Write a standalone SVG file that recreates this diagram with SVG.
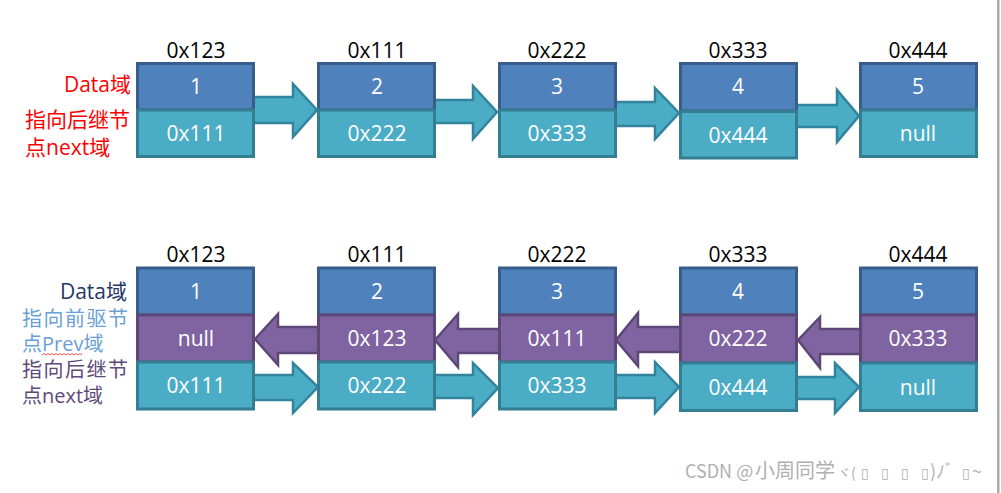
<svg xmlns="http://www.w3.org/2000/svg" width="1001" height="493" viewBox="0 0 1001 493">
<style>
.t{font-family:"Open Sans","Noto Sans CJK SC",sans-serif;}
.addr{font-size:21px;fill:#000;text-anchor:middle;}
.val{font-size:21px;fill:#fff;text-anchor:middle;}
.d{fill:#4F81BD;stroke:#385D8A;stroke-width:3;}
.n{fill:#4BACC6;stroke:#357D91;stroke-width:3;}
.p{fill:#8064A2;stroke:#5C4776;stroke-width:3;}
.an{fill:#4BACC6;stroke:#31849B;stroke-width:2.5;stroke-linejoin:miter;}
.ap{fill:#8064A2;stroke:#5C4776;stroke-width:2.5;stroke-linejoin:miter;}
.lab{font-size:21px;}
.lab2{font-size:20px;}
.wm{font-family:"Noto Sans CJK SC","Noto Sans",sans-serif;fill:#b0b0b0;font-size:18px;}
.bx{font-family:"DejaVu Sans",sans-serif;font-size:14px;}
</style>
<rect width="1001" height="493" fill="#fff"/>
<rect x="997" y="0" width="2.5" height="493" fill="#a9a9a9"/>

<g id="connectors">
  <polygon class="an" points="250,97 293,97 293,84 317,110 293,137 293,123 250,123"/>
  <polygon class="an" points="431,100 473,100 473,86 497,112 473,139 473,123 431,123"/>
  <polygon class="an" points="612,102 655,102 655,88 679,113 655,139 655,126 612,126"/>
  <polygon class="an" points="793,105 837,105 837,90 859,116 837,142 837,127 793,127"/>

  <polygon class="an" points="250,375 293,375 293,363 318,387 293,413 293,400 250,400"/>
  <polygon class="an" points="431,375 473,375 473,363 498,388 473,415 473,398 431,398"/>
  <polygon class="an" points="612,375 655,375 655,362 679,387 655,413 655,398 612,398"/>
  <polygon class="an" points="793,377 835,377 835,363 859,387 835,413 835,399 793,399"/>

  <polygon class="ap" points="255,339 278,314 278,327 322,327 322,353 278,353 278,365"/>
  <polygon class="ap" points="435,340 458,314 458,329 503,329 503,353 458,353 458,367"/>
  <polygon class="ap" points="616,340 638,313 638,327 684,327 684,352 638,352 638,366"/>
  <polygon class="ap" points="798,340 820,317 820,329 865,329 865,354 820,354 820,368"/>
</g>

<g id="top-node-1">
  <text class="t addr" x="196" y="58">0x123</text>
  <rect class="d" x="137.5" y="63.5" width="116" height="46.5"/>
  <rect class="n" x="137.5" y="110" width="116" height="46.5"/>
  <text class="t val" x="196" y="94">1</text>
  <text class="t val" x="196" y="141">0x111</text>
</g>
<g id="top-node-2">
  <text class="t addr" x="377" y="58">0x111</text>
  <rect class="d" x="318.5" y="63.5" width="116" height="46.5"/>
  <rect class="n" x="318.5" y="110" width="116" height="46.5"/>
  <text class="t val" x="377" y="94">2</text>
  <text class="t val" x="377" y="141">0x222</text>
</g>
<g id="top-node-3">
  <text class="t addr" x="557" y="58">0x222</text>
  <rect class="d" x="499.5" y="63.5" width="116" height="46.5"/>
  <rect class="n" x="499.5" y="110" width="116" height="46.5"/>
  <text class="t val" x="557" y="94">3</text>
  <text class="t val" x="557" y="141">0x333</text>
</g>
<g id="top-node-4">
  <text class="t addr" x="738" y="58">0x333</text>
  <rect class="d" x="680.5" y="63.5" width="116" height="47.5"/>
  <rect class="n" x="680.5" y="111.5" width="116" height="46.5"/>
  <text class="t val" x="738" y="94">4</text>
  <text class="t val" x="738" y="143">0x444</text>
</g>
<g id="top-node-5">
  <text class="t addr" x="918" y="58">0x444</text>
  <rect class="d" x="860.5" y="63.5" width="116" height="46.5"/>
  <rect class="n" x="860.5" y="110" width="116" height="46.5"/>
  <text class="t val" x="918" y="94">5</text>
  <text class="t val" x="918" y="141">null</text>
</g>

<g id="bottom-node-1">
  <text class="t addr" x="196" y="262">0x123</text>
  <rect class="d" x="137.5" y="268" width="116" height="47"/>
  <rect class="p" x="137.5" y="315" width="116" height="47"/>
  <rect class="n" x="137.5" y="362" width="116" height="47"/>
  <text class="t val" x="196" y="299">1</text>
  <text class="t val" x="196" y="346">null</text>
  <text class="t val" x="196" y="393">0x111</text>
</g>
<g id="bottom-node-2">
  <text class="t addr" x="377" y="262">0x111</text>
  <rect class="d" x="318.5" y="268" width="116" height="47"/>
  <rect class="p" x="318.5" y="315" width="116" height="47"/>
  <rect class="n" x="318.5" y="362" width="116" height="47"/>
  <text class="t val" x="377" y="299">2</text>
  <text class="t val" x="377" y="346">0x123</text>
  <text class="t val" x="377" y="393">0x222</text>
</g>
<g id="bottom-node-3">
  <text class="t addr" x="557" y="262">0x222</text>
  <rect class="d" x="499.5" y="268" width="116" height="47"/>
  <rect class="p" x="499.5" y="315" width="116" height="47"/>
  <rect class="n" x="499.5" y="362" width="116" height="47"/>
  <text class="t val" x="557" y="299">3</text>
  <text class="t val" x="557" y="346">0x111</text>
  <text class="t val" x="557" y="393">0x333</text>
</g>
<g id="bottom-node-4">
  <text class="t addr" x="738" y="262">0x333</text>
  <rect class="d" x="680.5" y="268" width="116" height="47"/>
  <rect class="p" x="680.5" y="315" width="116" height="48"/>
  <rect class="n" x="680.5" y="363" width="116" height="47.5"/>
  <text class="t val" x="738" y="299">4</text>
  <text class="t val" x="738" y="346">0x222</text>
  <text class="t val" x="738" y="395">0x444</text>
</g>
<g id="bottom-node-5">
  <text class="t addr" x="918" y="262">0x444</text>
  <rect class="d" x="860.5" y="268" width="116" height="47"/>
  <rect class="p" x="860.5" y="315" width="116" height="48"/>
  <rect class="n" x="860.5" y="363" width="116" height="47.5"/>
  <text class="t val" x="918" y="299">5</text>
  <text class="t val" x="918" y="346">0x333</text>
  <text class="t val" x="918" y="395">null</text>
</g>

<g id="labels-top">
  <text class="t lab" x="131" y="92" text-anchor="end" fill="#FF0000">Data域</text>
  <text class="t lab" x="25" y="127" fill="#FF0000">指向后继节</text>
  <text class="t lab" x="25" y="155" fill="#FF0000">点next域</text>
</g>
<g id="labels-bottom">
  <text class="t lab" x="127" y="299" text-anchor="end" fill="#1F3864">Data域</text>
  <text class="t lab2" x="22" y="326" fill="#6A9FD8" textLength="106">指向前驱节</text>
  <text class="t lab2" x="22" y="351" fill="#6A9FD8">点Prev域</text>
  <path d="M42,355 l2,-1.5 l2,1.5 l2,-1.5 l2,1.5 l2,-1.5 l2,1.5 l2,-1.5 l2,1.5 l2,-1.5 l2,1.5 l2,-1.5 l2,1.5 l2,-1.5 l2,1.5 l2,-1.5 l2,1.5 l2,-1.5 l2,1.5 l2,-1.5 l2,1.5" fill="none" stroke="#FF4040" stroke-width="0.9"/>
  <text class="t lab2" x="22" y="377" fill="#604A7B" textLength="106">指向后继节</text>
  <text class="t lab2" x="22" y="403" fill="#604A7B">点next域</text>
</g>

<text class="wm" x="685" y="478">CSDN @<tspan x="755" font-size="20">小周同学</tspan><tspan x="837" font-size="14">ヾ(</tspan><tspan class="bx" x="861">▯</tspan><tspan class="bx" x="881">▯</tspan><tspan class="bx" x="901">▯</tspan><tspan class="bx" x="921">▯</tspan><tspan x="930">)ﾉﾞ</tspan><tspan class="bx" x="962">▯</tspan><tspan x="972">~</tspan></text>
</svg>
